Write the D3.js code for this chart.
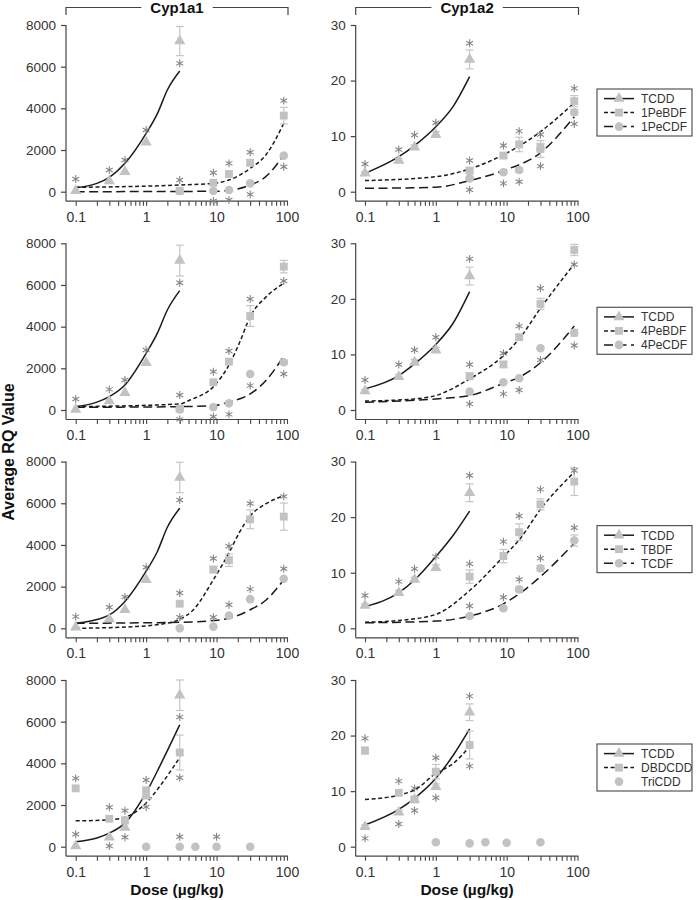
<!DOCTYPE html>
<html>
<head>
<meta charset="utf-8">
<script src="https://cdn.jsdelivr.net/npm/d3@7"></script>
<style>
  html, body { margin: 0; padding: 0; background: #fff; }
  svg { display: block; font-family: "Liberation Sans", Arial, sans-serif; }
</style>
</head>
<body>
<svg id="chart" width="698" height="900"></svg>
<script>
// ---------------- DATA ----------------
const geneTitles = ["Cyp1a1", "Cyp1a2"];
const yMaxes = [8000, 30];
const yTicksLeft = [0, 2000, 4000, 6000, 8000];
const yTicksRight = [0, 10, 20, 30];
const xTickLabels = [0.1, 1, 10, 100];
const xAxisLabel = "Dose (\u00b5g/kg)";
const yAxisLabel = "Average RQ Value";

const doseTCDD = [0.1, 0.3, 0.5, 1, 3];
const doseFuran = [3, 9, 15, 30, 90];
const doseDBDCDD = [0.1, 0.3, 0.5, 1, 3];
const doseTriCDD = [1, 3, 5, 10, 30];

const legendRow1 = ["TCDD", "1PeBDF", "1PeCDF"];
const legendRow2 = ["TCDD", "4PeBDF", "4PeCDF"];
const legendRow3 = ["TCDD", "TBDF", "TCDF"];
const legendRow4 = ["TCDD", "DBDCDD", "TriCDD"];

// Row 1 — Cyp1a1
const r1a1_TCDD = [50, 510, 960, 2370, 7230];
const r1a1_TCDD_err = [0, 0, 0, 0, 700];
const r1a1_TCDD_star = [610, 1040, 1520, 2960, 6160];
const r1a1_TCDD_fit = [[0.1,190],[0.2,400],[0.3,690],[0.5,1360],[1,2800],[1.45,3760],[2,4880],[3,5790]];
const r1a1_B = [40, 430, 850, 1390, 3650];
const r1a1_B_err = [0, 0, 0, 150, 400];
const r1a1_B_star = [560, 910, 1360, 1890, 4370];
const r1a1_B_fit = [[0.1,210],[3,320],[9,400],[15,560],[30,1120],[50,1760],[90,3280]];
const r1a1_C = [30, 40, 80, 400, 1730];
const r1a1_C_err = [0, 0, 0, 0, 0];
const r1a1_C_star = [null, -450, -400, -130, 1200];
const r1a1_C_fit = [[0.1,0],[9,20],[15,60],[30,320],[50,720],[90,1760]];
// Row 1 — Cyp1a2
const r1a2_TCDD = [3.3, 5.6, 8.0, 10.3, 23.8];
const r1a2_TCDD_err = [0.3, 0.4, 0.4, 0.5, 1.7];
const r1a2_TCDD_star = [5.0, 7.6, 10.2, 12.4, 26.7];
const r1a2_TCDD_fit = [[0.1,3.3],[0.3,6.3],[0.5,8.3],[1,11.7],[1.77,15.4],[3,20.7]];
const r1a2_B = [3.8, 6.5, 8.5, 7.9, 16.3];
const r1a2_B_err = [0.5, 0.4, 1.3, 0.8, 1.0];
const r1a2_B_star = [5.6, 8.3, 10.9, 10.3, 18.6];
const r1a2_B_fit = [[0.1,2.0],[1,2.7],[3,4.1],[9,6.65],[15,8.2],[30,10.8],[90,16.0]];
const r1a2_C = [2.4, 3.5, 3.9, 7.7, 14.3];
const r1a2_C_err = [0.3, 0.3, 0.4, 1.5, 0.5];
const r1a2_C_star = [0.36, 1.5, 1.8, 4.6, 12.2];
const r1a2_C_fit = [[0.1,0.6],[1,0.8],[3,2.0],[9,3.8],[30,7.0],[90,13.5]];

// Row 2 — Cyp1a1
const r2a1_TCDD = [30, 430, 830, 2270, 7170];
const r2a1_TCDD_err = [0, 0, 0, 0, 740];
const r2a1_TCDD_star = [530, 990, 1440, 2880, 6110];
const r2a1_TCDD_fit = [[0.1,160],[0.2,380],[0.3,640],[0.5,1200],[1,2720],[1.45,3700],[2,4800],[3,5730]];
const r2a1_B = [60, 1330, 2320, 4510, 6880];
const r2a1_B_err = [0, 0, 0, 500, 300];
const r2a1_B_star = [720, 1840, 2830, 5330, 6190];
const r2a1_B_fit = [[0.1,160],[3,290],[4.2,480],[9,1120],[15,2160],[21,3200],[30,4480],[51,5440],[90,6080]];
const r2a1_C = [30, 130, 320, 1730, 2290];
const r2a1_C_err = [0, 0, 0, 0, 100];
const r2a1_C_star = [-450, -320, -210, 1170, 1730];
const r2a1_C_fit = [[0.1,130],[3,160],[9,210],[15,380],[30,770],[51,1440],[90,2590]];
// Row 2 — Cyp1a2
const r2a2_TCDD = [3.4, 6.0, 8.6, 10.8, 24.1];
const r2a2_TCDD_err = [0.3, 0.4, 0.5, 0.5, 1.6];
const r2a2_TCDD_star = [5.4, 8.2, 10.8, 13.1, 27.2];
const r2a2_TCDD_fit = [[0.1,3.8],[0.3,6.2],[0.5,8.3],[1,11.8],[1.77,15.7],[3,21.3]];
const r2a2_B = [6.1, 8.2, 13.1, 19.1, 28.8];
const r2a2_B_err = [0.5, 0.5, 0.5, 1.0, 1.0];
const r2a2_B_star = [8.2, 10.2, 15.1, 21.9, 26.2];
const r2a2_B_fit = [[0.1,1.6],[0.5,2.0],[1,2.6],[3,5.6],[9,9.8],[15,12.8],[30,18.3],[90,26.3]];
const r2a2_C = [3.3, 5.0, 5.7, 11.1, 13.9];
const r2a2_C_err = [0, 0, 0, 0, 0.6];
const r2a2_C_star = [1.1, 2.9, 3.6, 9.0, 11.6];
const r2a2_C_fit = [[0.1,1.4],[1,2.0],[3,2.6],[9,4.8],[15,5.9],[30,8.5],[90,15.1]];

// Row 3 — Cyp1a1
const r3a1_TCDD = [50, 450, 885, 2330, 7240];
const r3a1_TCDD_err = [0, 0, 0, 0, 730];
const r3a1_TCDD_star = [560, 1010, 1500, 2930, 6160];
const r3a1_TCDD_fit = [[0.1,240],[0.2,420],[0.3,640],[0.5,1290],[1,2740],[1.45,3700],[2,4850],[3,5760]];
const r3a1_B = [1180, 2820, 3270, 5230, 5360];
const r3a1_B_err = [0, 150, 300, 450, 650];
const r3a1_B_star = [1690, 3350, 3940, 5990, 6330];
const r3a1_B_fit = [[0.1,0],[0.66,80],[1.95,240],[3,430],[4.65,880],[9,2330],[15,3620],[21,4590],[30,5390],[51,5990],[90,6360]];
const r3a1_C = [0, 80, 610, 1400, 2380];
const r3a1_C_err = [0, 0, 0, 0, 0];
const r3a1_C_star = [530, 530, 1130, 1880, 2860];
const r3a1_C_fit = [[0.1,240],[3,290],[9,370],[15,480],[30,890],[51,1370],[90,2330]];
// Row 3 — Cyp1a2
const r3a2_TCDD = [4.1, 6.4, 8.8, 10.9, 24.4];
const r3a2_TCDD_err = [0.3, 0.4, 0.4, 0.5, 1.6];
const r3a2_TCDD_star = [5.9, 8.4, 10.7, 12.9, 27.5];
const r3a2_TCDD_fit = [[0.1,3.9],[0.3,6.4],[0.5,8.7],[1,12.9],[1.77,16.8],[3,21.1]];
const r3a2_B = [9.3, 13.0, 17.3, 22.3, 26.4];
const r3a2_B_err = [1.2, 1.2, 1.5, 1.0, 2.5];
const r3a2_B_star = [11.6, 15.6, 20.2, 25.0, 28.4];
const r3a2_B_fit = [[0.1,1.1],[0.3,1.4],[1,2.5],[3,6.8],[9,12.9],[15,15.9],[30,21.4],[90,28.1]];
const r3a2_C = [2.2, 3.6, 7.0, 10.8, 15.8];
const r3a2_C_err = [0.3, 0.3, 0.4, 0.5, 1.0];
const r3a2_C_star = [4.0, 5.6, 8.8, 12.6, 18.1];
const r3a2_C_fit = [[0.1,1.0],[1,1.3],[3,2.2],[9,4.4],[15,6.2],[30,9.3],[90,15.3]];

// Row 4 — Cyp1a1
const r4a1_TCDD = [30, 450, 920, 2420, 7270];
const r4a1_TCDD_err = [0, 0, 0, 0, 730];
const r4a1_TCDD_star = [600, 30, 450, 3200, 6220];
const r4a1_TCDD_fit = [[0.1,240],[0.2,420],[0.3,650],[0.5,1130],[1,2590],[1.57,3880],[3,5850]];
const r4a1_B = [2800, 1340, 1260, 2670, 4520];
const r4a1_B_err = [0, 0, 150, 200, 840];
const r4a1_B_star = [3280, 1890, 1730, 1910, 3310];
const r4a1_B_fit = [[0.1,1240],[0.3,1290],[0.5,1410],[1,2100],[1.57,2910],[3,4280]];
const r4a1_C = [0, 0, 0, 0, 0];
const r4a1_C_err = [0, 0, 0, 0, 0];
const r4a1_C_star = [null, 480, null, 480, null];
// Row 4 — Cyp1a2
const r4a2_TCDD = [3.6, 6.2, 8.5, 10.8, 24.2];
const r4a2_TCDD_err = [0.3, 0.4, 0.4, 0.5, 1.5];
const r4a2_TCDD_star = [1.5, 4.1, 6.5, 8.8, 27.1];
const r4a2_TCDD_fit = [[0.1,3.9],[0.3,6.7],[0.5,8.7],[1,12.3],[1.77,16.5],[3,21.2]];
const r4a2_B = [17.3, 9.7, 8.5, 13.5, 18.3];
const r4a2_B_err = [0.6, 0.5, 0.5, 1.3, 2.5];
const r4a2_B_star = [19.5, 11.8, 10.5, 16.0, 14.5];
const r4a2_B_fit = [[0.1,8.5],[0.3,9.3],[0.5,10.2],[1,13.2],[1.77,15.0],[3,18.0]];
const r4a2_C = [0.8, 0.6, 0.8, 0.7, 0.8];
const r4a2_C_err = [0, 0, 0, 0, 0];
const r4a2_C_star = [null, null, null, null, null];

// ---------------- BUILD PANELS ----------------
function S(dose, vals, err, star, fit) { return { dose, vals, err, star, fit }; }
const rows = [
  { legend: legendRow1, hasLine: [true, true, true], panels: [
    [S(doseTCDD, r1a1_TCDD, r1a1_TCDD_err, r1a1_TCDD_star, r1a1_TCDD_fit), S(doseFuran, r1a1_B, r1a1_B_err, r1a1_B_star, r1a1_B_fit), S(doseFuran, r1a1_C, r1a1_C_err, r1a1_C_star, r1a1_C_fit)],
    [S(doseTCDD, r1a2_TCDD, r1a2_TCDD_err, r1a2_TCDD_star, r1a2_TCDD_fit), S(doseFuran, r1a2_B, r1a2_B_err, r1a2_B_star, r1a2_B_fit), S(doseFuran, r1a2_C, r1a2_C_err, r1a2_C_star, r1a2_C_fit)]
  ]},
  { legend: legendRow2, hasLine: [true, true, true], panels: [
    [S(doseTCDD, r2a1_TCDD, r2a1_TCDD_err, r2a1_TCDD_star, r2a1_TCDD_fit), S(doseFuran, r2a1_B, r2a1_B_err, r2a1_B_star, r2a1_B_fit), S(doseFuran, r2a1_C, r2a1_C_err, r2a1_C_star, r2a1_C_fit)],
    [S(doseTCDD, r2a2_TCDD, r2a2_TCDD_err, r2a2_TCDD_star, r2a2_TCDD_fit), S(doseFuran, r2a2_B, r2a2_B_err, r2a2_B_star, r2a2_B_fit), S(doseFuran, r2a2_C, r2a2_C_err, r2a2_C_star, r2a2_C_fit)]
  ]},
  { legend: legendRow3, hasLine: [true, true, true], panels: [
    [S(doseTCDD, r3a1_TCDD, r3a1_TCDD_err, r3a1_TCDD_star, r3a1_TCDD_fit), S(doseFuran, r3a1_B, r3a1_B_err, r3a1_B_star, r3a1_B_fit), S(doseFuran, r3a1_C, r3a1_C_err, r3a1_C_star, r3a1_C_fit)],
    [S(doseTCDD, r3a2_TCDD, r3a2_TCDD_err, r3a2_TCDD_star, r3a2_TCDD_fit), S(doseFuran, r3a2_B, r3a2_B_err, r3a2_B_star, r3a2_B_fit), S(doseFuran, r3a2_C, r3a2_C_err, r3a2_C_star, r3a2_C_fit)]
  ]},
  { legend: legendRow4, hasLine: [true, true, false], panels: [
    [S(doseTCDD, r4a1_TCDD, r4a1_TCDD_err, r4a1_TCDD_star, r4a1_TCDD_fit), S(doseDBDCDD, r4a1_B, r4a1_B_err, r4a1_B_star, r4a1_B_fit), S(doseTriCDD, r4a1_C, r4a1_C_err, r4a1_C_star, null)],
    [S(doseTCDD, r4a2_TCDD, r4a2_TCDD_err, r4a2_TCDD_star, r4a2_TCDD_fit), S(doseDBDCDD, r4a2_B, r4a2_B_err, r4a2_B_star, r4a2_B_fit), S(doseTriCDD, r4a2_C, r4a2_C_err, r4a2_C_star, null)]
  ]}
];

// ---------------- STYLE / LAYOUT ----------------
const cols = [ { axisX: 66, x0: 75.7, x1: 287 }, { axisX: 355.7, x0: 365, x1: 577.5 } ];
const rowTops = [25, 243.3, 461.6, 680];
const plotH = 166.7;
const xAxisGap = 9.5;
const markerFill = "#c2c2c2";
const starColor = "#858585";
const lineColor = "#1b1b1b";
const axisColor = "#444";
const textColor = "#333";
const dashes = [null, "4,2.6", "9,4.5"];
const symbols = [d3.symbolTriangle, d3.symbolSquare, d3.symbolCircle];
const symSizes = [55, 62, 58];

const svg = d3.select("#chart");
const allTicks = [];
[0.1, 1, 10].forEach(dec => { for (let k = 1; k <= 9; k++) allTicks.push(+(dec * k).toPrecision(3)); });
allTicks.push(100);

rows.forEach((row, ri) => {
  const top = rowTops[ri];
  row.panels.forEach((series, ci) => {
    const c = cols[ci];
    const x = d3.scaleLog().domain([0.1, 100]).range([c.x0, c.x1]);
    const y = d3.scaleLinear().domain([0, yMaxes[ci]]).range([top + plotH, top]);
    const xAxisY = top + plotH + xAxisGap;
    const g = svg.append("g");

    // Y axis
    const yAx = g.append("g").attr("transform", `translate(${c.axisX},0)`)
      .call(d3.axisLeft(y).tickValues(ci === 0 ? yTicksLeft : yTicksRight).tickFormat(d3.format("d"))
        .tickSize(5).tickPadding(5).tickSizeOuter(0));
    yAx.select(".domain").remove();
    yAx.selectAll("line").attr("stroke", axisColor).attr("stroke-width", 1.2);
    yAx.selectAll("text").attr("fill", textColor).style("font-size", "13.5px").style("font-family", "Liberation Sans, Arial, sans-serif");
    g.append("line").attr("x1", c.axisX).attr("x2", c.axisX).attr("y1", y(yMaxes[ci])).attr("y2", xAxisY)
      .attr("stroke", axisColor).attr("stroke-width", 1.2);

    // X axis
    const xAx = g.append("g").attr("transform", `translate(0,${xAxisY})`)
      .call(d3.axisBottom(x).tickValues(allTicks).tickSize(4.5).tickPadding(6)
        .tickFormat(d => xTickLabels.includes(d) ? String(d) : ""));
    xAx.select(".domain").remove();
    xAx.selectAll("line").attr("stroke", axisColor).attr("stroke-width", 1.1);
    xAx.selectAll("text").attr("fill", textColor).style("font-size", "14px").style("font-family", "Liberation Sans, Arial, sans-serif");
    g.append("line").attr("x1", c.axisX).attr("x2", c.x1 + 1).attr("y1", xAxisY).attr("y2", xAxisY)
      .attr("stroke", axisColor).attr("stroke-width", 1.2);

    // fit curves
    const line = d3.line().x(d => x(d[0])).y(d => y(d[1])).curve(d3.curveMonotoneX);
    series.forEach((s, si) => {
      if (!s.fit) return;
      g.append("path").attr("d", line(s.fit)).attr("fill", "none").attr("stroke", lineColor)
        .attr("stroke-width", 1.5).attr("stroke-dasharray", dashes[si]);
    });

    // error bars + markers
    series.forEach((s, si) => {
      s.vals.forEach((v, i) => {
        const e = s.err[i];
        if (e > 0) {
          const px = x(s.dose[i]);
          const eg = g.append("g").attr("stroke", "#c6c6c6").attr("stroke-width", 1.2);
          eg.append("line").attr("x1", px).attr("x2", px).attr("y1", y(v - e)).attr("y2", y(v + e));
          eg.append("line").attr("x1", px - 4).attr("x2", px + 4).attr("y1", y(v - e)).attr("y2", y(v - e));
          eg.append("line").attr("x1", px - 4).attr("x2", px + 4).attr("y1", y(v + e)).attr("y2", y(v + e));
        }
      });
    });
    series.forEach((s, si) => {
      g.selectAll(null).data(s.vals.map((v, i) => [s.dose[i], v])).join("path")
        .attr("d", d3.symbol().type(symbols[si]).size(symSizes[si]))
        .attr("transform", d => `translate(${x(d[0])},${y(d[1])})`)
        .attr("fill", markerFill);
    });
    // asterisks
    series.forEach((s, si) => {
      const pts = s.star.map((v, i) => [s.dose[i], v]).filter(d => d[1] !== null);
      g.selectAll(null).data(pts).join("path")
        .attr("d", d3.symbol().type(d3.symbolAsterisk).size(44))
        .attr("transform", d => `translate(${x(d[0])},${y(d[1])})`)
        .attr("fill", "none").attr("stroke", starColor).attr("stroke-width", 1.1);
    });
  });

  // legend
  const lx = 597, ly = top + 64, lw = 95, lh = 47;
  const lg = svg.append("g");
  lg.append("rect").attr("x", lx).attr("y", ly).attr("width", lw).attr("height", lh)
    .attr("fill", "#fff").attr("stroke", "#555").attr("stroke-width", 1.2);
  row.legend.forEach((name, i) => {
    const cy = ly + 9.6 + i * 14;
    if (row.hasLine[i]) {
      lg.append("line").attr("x1", lx + 7).attr("x2", lx + 37).attr("y1", cy).attr("y2", cy)
        .attr("stroke", lineColor).attr("stroke-width", 1.5).attr("stroke-dasharray", dashes[i]);
    }
    lg.append("path").attr("d", d3.symbol().type(symbols[i]).size(symSizes[i])())
      .attr("transform", `translate(${lx + 22},${cy})`).attr("fill", markerFill);
    lg.append("text").attr("x", lx + 44).attr("y", cy).attr("dy", "0.36em")
      .attr("fill", textColor).style("font-size", "12px").text(name);
  });
});

// column titles with brackets
cols.forEach((c, ci) => {
  const cx = (c.axisX + c.x1 + 1) / 2;
  const t = svg.append("text").attr("x", cx).attr("y", 13).attr("text-anchor", "middle")
    .attr("fill", "#111").style("font-size", "15px").style("font-weight", "bold").text(geneTitles[ci]);
  const w = t.node().getComputedTextLength();
  const gap = 9;
  const by = 7.5;
  svg.append("path")
    .attr("d", `M${c.axisX},15V${by}H${cx - w / 2 - gap}M${cx + w / 2 + gap},${by}H${c.x1 + 1}V15`)
    .attr("fill", "none").attr("stroke", axisColor).attr("stroke-width", 1.2);
  svg.append("text").attr("x", cx).attr("y", 895).attr("text-anchor", "middle")
    .attr("fill", "#111").style("font-size", "15.5px").style("font-weight", "bold").text(xAxisLabel);
});

svg.append("text").attr("transform", "translate(8,452) rotate(-90)").attr("text-anchor", "middle")
  .attr("dy", "0.36em").attr("fill", "#111").style("font-size", "16px").style("font-weight", "bold").text(yAxisLabel);
</script>
</body>
</html>
